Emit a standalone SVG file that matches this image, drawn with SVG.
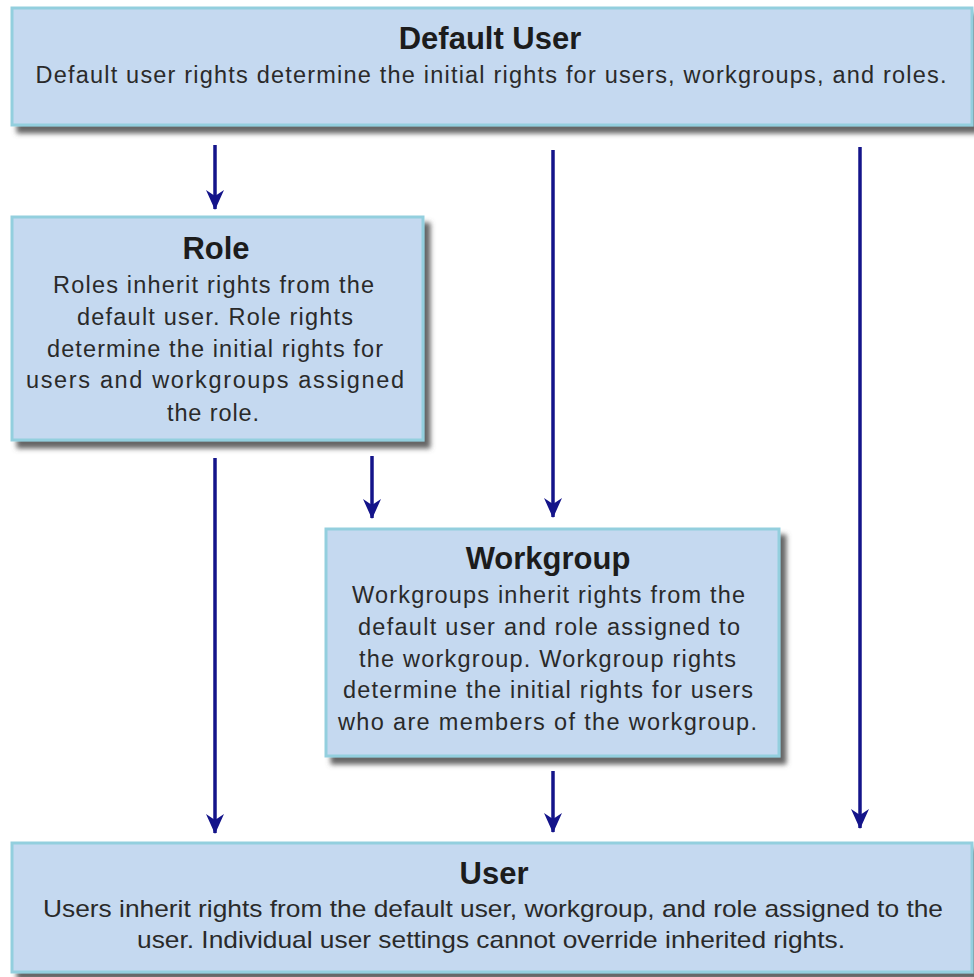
<svg xmlns="http://www.w3.org/2000/svg" width="974" height="977" viewBox="0 0 974 977">
<style>
.box{fill:#c5d9f0;stroke:#93cfde;stroke-width:3}
.title{font-family:"Liberation Sans",Arial,sans-serif;font-weight:bold;font-size:31px;fill:#1c1c1c;text-anchor:middle}
.body{font-family:"Liberation Sans",Arial,sans-serif;font-size:23.5px;fill:#2a2a2a;text-anchor:middle}
.ubody{font-family:"Liberation Sans",Arial,sans-serif;font-size:24px;fill:#2a2a2a;text-anchor:middle}
.conn{stroke:#14148a;stroke-width:3.5;fill:none;marker-end:url(#arr)}
</style>
<defs>
<filter id="sh" x="-5%" y="-5%" width="115%" height="125%">
<feGaussianBlur in="SourceAlpha" stdDeviation="2.5"/>
<feOffset dx="6" dy="7" result="o"/>
<feFlood flood-color="#555555" flood-opacity="0.9"/>
<feComposite in2="o" operator="in"/>
<feMerge><feMergeNode/><feMergeNode in="SourceGraphic"/></feMerge>
</filter>
<marker id="arr" viewBox="0 0 20 18" refX="19" refY="9" markerWidth="20" markerHeight="18" markerUnits="userSpaceOnUse" orient="auto">
<path d="M0,0 L20,9 L0,18 L6,9 z" fill="#14148a"/>
</marker>
</defs>
<rect width="974" height="977" fill="#ffffff"/>
<g id="connectors">
<line class="conn" x1="215" y1="145" x2="215" y2="209"/>
<line class="conn" x1="553" y1="150" x2="553" y2="517"/>
<line class="conn" x1="860" y1="147" x2="860" y2="828"/>
<line class="conn" x1="215" y1="458" x2="215" y2="833"/>
<line class="conn" x1="372" y1="456" x2="372" y2="518"/>
<line class="conn" x1="553" y1="771" x2="553" y2="832"/>
</g>
<g id="default-user">
<rect class="box" x="12" y="8" width="960" height="117" filter="url(#sh)"/>
<text class="title" x="490" y="49">Default User</text>
<text class="body" x="491" y="83" textLength="911" lengthAdjust="spacing">Default user rights determine the initial rights for users, workgroups, and roles.</text>
</g>
<g id="role">
<rect class="box" x="12" y="217" width="411" height="223" filter="url(#sh)"/>
<text class="title" x="216" y="259">Role</text>
<text class="body" x="213.5" y="293" textLength="321" lengthAdjust="spacing">Roles inherit rights from the</text>
<text class="body" x="215" y="325" textLength="276" lengthAdjust="spacing">default user. Role rights</text>
<text class="body" x="215" y="357" textLength="336" lengthAdjust="spacing">determine the initial rights for</text>
<text class="body" x="215" y="388" textLength="378" lengthAdjust="spacing">users and workgroups assigned</text>
<text class="body" x="213" y="421" textLength="92" lengthAdjust="spacing">the role.</text>
</g>
<g id="workgroup">
<rect class="box" x="326" y="529" width="453" height="227" filter="url(#sh)"/>
<text class="title" x="548" y="569">Workgroup</text>
<text class="body" x="548.5" y="603" textLength="393" lengthAdjust="spacing">Workgroups inherit rights from the</text>
<text class="body" x="549" y="635" textLength="382" lengthAdjust="spacing">default user and role assigned to</text>
<text class="body" x="547.5" y="667" textLength="377" lengthAdjust="spacing">the workgroup. Workgroup rights</text>
<text class="body" x="548" y="698" textLength="410" lengthAdjust="spacing">determine the initial rights for users</text>
<text class="body" x="547.5" y="730" textLength="419" lengthAdjust="spacing">who are members of the workgroup.</text>
</g>
<g id="user">
<rect class="box" x="12" y="843" width="960" height="129" filter="url(#sh)"/>
<text class="title" x="494" y="884">User</text>
<text class="ubody" x="493" y="917" textLength="900" lengthAdjust="spacingAndGlyphs">Users inherit rights from the default user, workgroup, and role assigned to the</text>
<text class="ubody" x="491" y="948" textLength="708" lengthAdjust="spacingAndGlyphs">user. Individual user settings cannot override inherited rights.</text>
</g>
</svg>
